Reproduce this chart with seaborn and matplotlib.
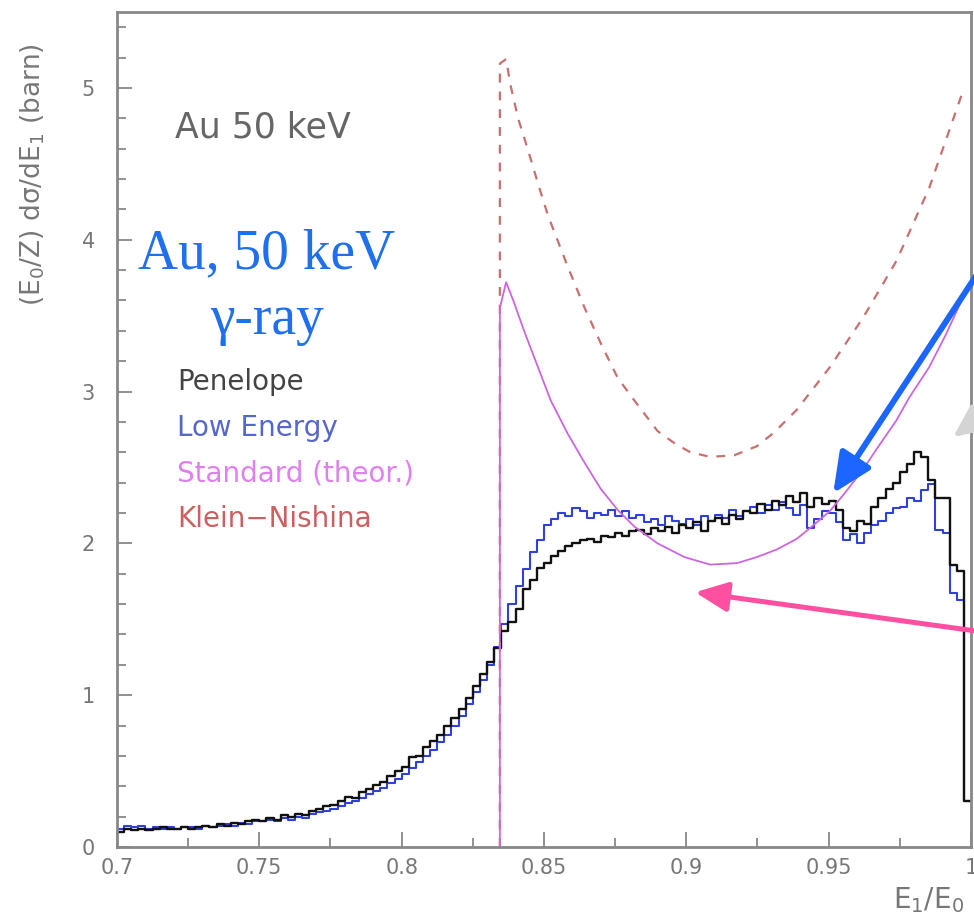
import numpy as np
import pandas as pd
import matplotlib
matplotlib.use("Agg")
import matplotlib.pyplot as plt
from matplotlib.ticker import MultipleLocator, FixedLocator, FixedFormatter
import seaborn as sns

sns.set_theme(style="ticks")
plt.rcParams["font.family"] = ["DejaVu Sans"]
plt.rcParams["mathtext.default"] = "regular"

# 120 bins of width 0.0025 between E1/E0 = 0.7 and 1.0
bin_lo, bin_hi, bin_w = 0.7, 1.0, 0.0025

penelope = [
    0.10, 0.12, 0.11, 0.12, 0.11, 0.12, 0.13, 0.12, 0.12, 0.13,
    0.12, 0.13, 0.14, 0.13, 0.15, 0.14, 0.16, 0.15, 0.17, 0.18,
    0.17, 0.19, 0.18, 0.21, 0.20, 0.22, 0.21, 0.24, 0.25, 0.27,
    0.28, 0.30, 0.33, 0.32, 0.36, 0.38, 0.41, 0.43, 0.47, 0.50,
    0.53, 0.59, 0.60, 0.66, 0.70, 0.74, 0.80, 0.85, 0.91, 0.98,
    1.06, 1.14, 1.22, 1.31, 1.42, 1.48, 1.57, 1.70, 1.76, 1.84,
    1.87, 1.92, 1.95, 1.98, 2.00, 2.02, 2.03, 2.01, 2.05, 2.04,
    2.07, 2.05, 2.08, 2.09, 2.06, 2.10, 2.08, 2.11, 2.07, 2.12,
    2.10, 2.14, 2.08, 2.15, 2.17, 2.13, 2.19, 2.16, 2.21, 2.20,
    2.26, 2.22, 2.28, 2.25, 2.31, 2.27, 2.33, 2.24, 2.30, 2.26,
    2.28, 2.22, 2.10, 2.08, 2.15, 2.13, 2.24, 2.30, 2.36, 2.40,
    2.47, 2.52, 2.60, 2.57, 2.42, 2.30, 2.30, 1.86, 1.82, 0.30,
]

low_energy = [
    0.12, 0.14, 0.13, 0.14, 0.12, 0.13, 0.12, 0.13, 0.12, 0.13,
    0.13, 0.12, 0.14, 0.13, 0.14, 0.15, 0.14, 0.16, 0.15, 0.17,
    0.17, 0.18, 0.17, 0.19, 0.18, 0.20, 0.19, 0.22, 0.23, 0.24,
    0.25, 0.27, 0.29, 0.30, 0.32, 0.35, 0.37, 0.39, 0.42, 0.45,
    0.48, 0.52, 0.56, 0.60, 0.64, 0.69, 0.74, 0.80, 0.86, 0.94,
    1.02, 1.10, 1.20, 1.32, 1.47, 1.60, 1.72, 1.83, 1.94, 2.02,
    2.12, 2.16, 2.20, 2.18, 2.23, 2.21, 2.17, 2.20, 2.19, 2.22,
    2.18, 2.21, 2.17, 2.19, 2.14, 2.16, 2.12, 2.18, 2.15, 2.13,
    2.16, 2.12, 2.18, 2.15, 2.19, 2.17, 2.22, 2.18, 2.21, 2.24,
    2.20, 2.25, 2.22, 2.27, 2.23, 2.19, 2.25, 2.10, 2.16, 2.21,
    2.20, 2.14, 2.02, 2.06, 2.00, 2.07, 2.12, 2.15, 2.20, 2.23,
    2.24, 2.30, 2.28, 2.35, 2.39, 2.09, 2.07, 1.67, 1.63, 0.30,
]

kn_x = [0.8345, 0.8345, 0.8367, 0.8381, 0.8409, 0.8444, 0.8479, 0.8514, 0.8549,
        0.8584, 0.8643, 0.8699, 0.8759, 0.8818, 0.8899, 0.8958, 0.9014, 0.9084,
        0.9168, 0.9248, 0.9308, 0.9388, 0.9504, 0.9622, 0.9738, 0.9853, 0.9972]
kn_y = [0.0, 5.16, 5.19, 5.03, 4.80, 4.59, 4.37, 4.16, 3.99,
        3.82, 3.55, 3.32, 3.09, 2.94, 2.74, 2.66, 2.60, 2.57,
        2.58, 2.64, 2.73, 2.88, 3.16, 3.49, 3.86, 4.34, 4.98]

std_x = [0.8345, 0.8345, 0.8367, 0.8392, 0.8434, 0.8479, 0.8524, 0.8584, 0.8643,
         0.8699, 0.8759, 0.8818, 0.8899, 0.8993, 0.9084, 0.9178, 0.9248, 0.9318,
         0.9388, 0.9434, 0.9503, 0.9552, 0.9622, 0.9668, 0.9738, 0.9783, 0.9853,
         0.9913, 0.9972]
std_y = [0.0, 3.55, 3.72, 3.60, 3.38, 3.16, 2.94, 2.72, 2.53,
         2.36, 2.22, 2.11, 2.00, 1.91, 1.86, 1.87, 1.91, 1.96,
         2.03, 2.10, 2.21, 2.32, 2.49, 2.62, 2.81, 2.96, 3.16,
         3.38, 3.62]

xtick_vals = [0.7, 0.75, 0.8, 0.85, 0.9, 0.95, 1.0]
xtick_labels = ["0.7", "0.75", "0.8", "0.85", "0.9", "0.95", "1"]
ytick_vals = [0, 1, 2, 3, 4, 5]

legend_names = ["Penelope", "Low Energy", "Standard (theor.)", "Klein\u2212Nishina"]
legend_colors = ["#444444", "#5566cc", "#e080f0", "#cc6060"]

n_bins = len(penelope)
edges = np.linspace(bin_lo, bin_hi, n_bins + 1)
hist_df = pd.DataFrame({
    "e": (edges[:-1] + edges[1:]) / 2,
    "penelope": penelope,
    "low_energy": low_energy,
})

fig = plt.figure(figsize=(9.74, 9.16), dpi=100)
ax = fig.add_axes([0.1201, 0.0753, 0.8768, 0.9116])

sns.histplot(data=hist_df, x="e", weights="low_energy", binwidth=bin_w,
             binrange=(bin_lo, bin_hi), element="step", fill=False,
             color="#2f3fe0", linewidth=1.5, ax=ax)
sns.histplot(data=hist_df, x="e", weights="penelope", binwidth=bin_w,
             binrange=(bin_lo, bin_hi), element="step", fill=False,
             color="#111111", linewidth=1.7, ax=ax)
sns.lineplot(x=kn_x, y=kn_y, estimator=None, sort=False, color="#c87070",
             linewidth=1.6, ax=ax)
ax.lines[-1].set_dashes([4, 4])
sns.lineplot(x=std_x, y=std_y, estimator=None, sort=False, color="#cc66dd",
             linewidth=1.3, ax=ax)

ax.set_xlim(0.7, 1.0)
ax.set_ylim(0, 5.5)
ax.set_xlabel("")
ax.set_ylabel("")

ax.xaxis.set_major_locator(FixedLocator(xtick_vals))
ax.xaxis.set_major_formatter(FixedFormatter(xtick_labels))
ax.xaxis.set_minor_locator(MultipleLocator(0.025))
ax.set_yticks(ytick_vals)
ax.yaxis.set_minor_locator(MultipleLocator(0.2))

gray = "#888888"
for s in ax.spines.values():
    s.set_visible(True)
    s.set_color(gray)
    s.set_linewidth(2.0)
ax.tick_params(which="both", direction="in", color=gray, width=1.3,
               top=False, right=False, labelcolor="#777777", labelsize=15)
ax.tick_params(which="major", length=11)
ax.tick_params(which="minor", length=6.5)
ax.tick_params(axis="y", pad=16)
ax.tick_params(axis="x", pad=8)

# annotations
ax.text(0.7204, 4.74, "Au 50 keV", color="#666666", fontsize=25,
        ha="left", va="center")
ax.text(0.7526, 3.81, "Au, 50 keV", color="#1f6fef", fontsize=40,
        family=["Liberation Serif", "DejaVu Serif"], ha="center", va="baseline")
ax.text(0.7526, 3.38, "\u03b3-ray", color="#1f6fef", fontsize=40,
        family=["Liberation Serif", "DejaVu Serif"], ha="center", va="baseline")
legend_y = [3.066, 2.763, 2.461, 2.158]
for name, col, yy in zip(legend_names, legend_colors, legend_y):
    ax.text(0.7211, yy, name, color=col, fontsize=20, ha="left", va="center")

ax.annotate("", xy=(0.9516, 2.33), xytext=(1.0087, 3.96),
            xycoords="data", textcoords="data", annotation_clip=False,
            arrowprops=dict(arrowstyle="-|>,head_length=1.2,head_width=0.55",
                            mutation_scale=20, lw=4.3, color="#1a66ff",
                            shrinkA=0, shrinkB=0))
ax.annotate("", xy=(0.9031, 1.678), xytext=(1.0087, 1.405),
            xycoords="data", textcoords="data", annotation_clip=False,
            arrowprops=dict(arrowstyle="-|>,head_length=1.1,head_width=0.5",
                            mutation_scale=18, lw=3.6, color="#ff4fa0",
                            shrinkA=0, shrinkB=0))
ax.annotate("", xy=(0.9937, 2.70), xytext=(1.0087, 2.91),
            xycoords="data", textcoords="data", annotation_clip=False,
            arrowprops=dict(arrowstyle="-|>,head_length=1.1,head_width=0.5",
                            mutation_scale=18, lw=3.6, color="#d4d4d4",
                            shrinkA=0, shrinkB=0))

fig.text(0.034, 0.809, "(E$_0$/Z) d$\\sigma$/dE$_1$ (barn)", rotation=90,
         color="#777777", fontsize=19, ha="center", va="center")
fig.text(0.917, 0.0175, "E$_1$/E$_0$", color="#777777", fontsize=20,
         ha="left", va="center")

fig.savefig("out.png", dpi=100)
